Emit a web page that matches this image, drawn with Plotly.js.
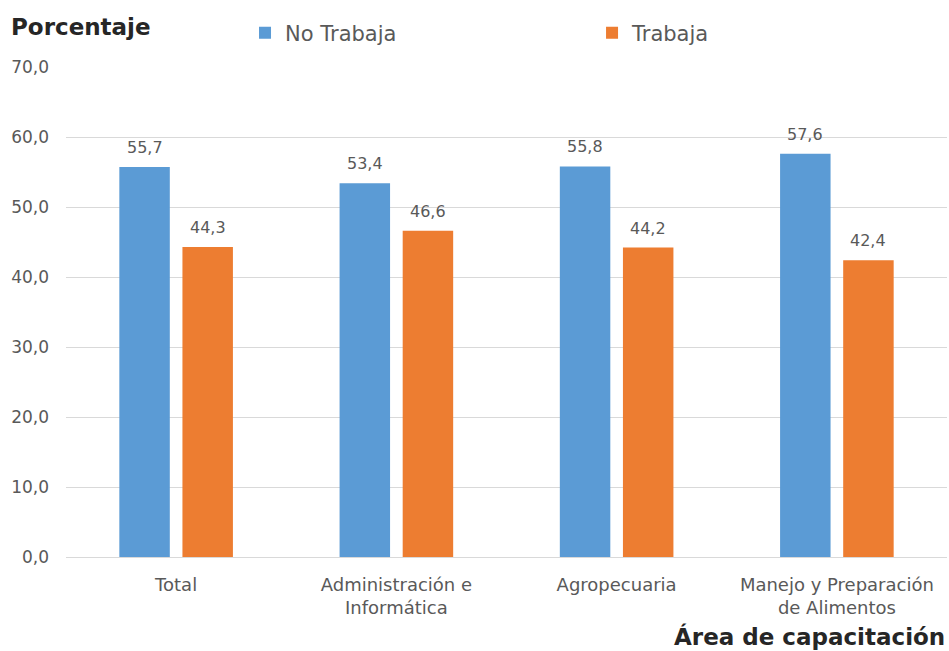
<!DOCTYPE html>
<html>
<head>
<meta charset="utf-8">
<script src="https://cdn.plot.ly/plotly-3.0.1.min.js"></script>
<style>
  html, body { margin: 0; padding: 0; background: #ffffff; }
  #chart { width: 949px; height: 651px; }
</style>
</head>
<body>
<div id="chart"></div>
<script>
// Capacitación por área: porcentaje que trabaja / no trabaja
const categories = [
  'Total',
  'Administración e<br>Informática',
  'Agropecuaria',
  'Manejo y Preparación<br>de Alimentos'
];
const noTrabaja = [55.7, 53.4, 55.8, 57.6];
const trabaja = [44.3, 46.6, 44.2, 42.4];
const yTicks = [0, 10, 20, 30, 40, 50, 60, 70];

const FONT = '"DejaVu Sans", "Open Sans", sans-serif';
const GRAY = '#595959';
const DARK = '#262626';
const BLUE = '#5B9BD5';
const ORANGE = '#ED7D31';

const W = 949, H = 651;
const margin = { l: 66, r: 2, t: 67, b: 94, autoexpand: false };
const bargap = 0.427;
const bargroupgap = 0.2;

// horizontal pixel offset of each bar centre from its category centre
const plotW = W - margin.l - margin.r;
const catPx = plotW / categories.length;
const barOffset = (1 - bargap) * catPx / 4;

const traces = [
  {
    type: 'bar', name: 'No Trabaja', x: categories, y: noTrabaja,
    marker: { color: BLUE }, legend: 'legend', hoverinfo: 'skip'
  },
  {
    type: 'bar', name: 'Trabaja', x: categories, y: trabaja,
    marker: { color: ORANGE }, legend: 'legend2', hoverinfo: 'skip'
  }
];

// value labels above each bar
function valueLabels(values, shift) {
  return values.map((v, i) => ({
    x: categories[i], y: v, xref: 'x', yref: 'y',
    text: v.toFixed(1).replace('.', ','),
    xanchor: 'center', yanchor: 'bottom',
    xshift: shift, yshift: 8,
    showarrow: false,
    font: { family: FONT, size: 16, color: GRAY }
  }));
}

const legendCommon = {
  orientation: 'h', yanchor: 'middle', xanchor: 'left',
  xref: 'paper', yref: 'paper', y: 1.069,
  font: { family: FONT, size: 21, color: GRAY },
  bgcolor: 'rgba(0,0,0,0)', borderwidth: 0,
  itemclick: false, itemdoubleclick: false
};

const layout = {
  width: W, height: H,
  margin: margin,
  paper_bgcolor: '#ffffff', plot_bgcolor: '#ffffff',
  separators: ',.',
  barmode: 'group',
  bargap: bargap,
  bargroupgap: bargroupgap,
  font: { family: FONT, color: GRAY },
  showlegend: true,
  legend: Object.assign({ x: 0.2032 }, legendCommon),
  legend2: Object.assign({ x: 0.5971 }, legendCommon),
  xaxis: {
    type: 'category',
    tickfont: { family: FONT, size: 18, color: GRAY },
    showgrid: false, zeroline: false, showline: false,
    ticks: '', ticklabelstandoff: 15
  },
  yaxis: {
    range: [0, 70],
    tickvals: yTicks,
    tickformat: '.1f',
    tickfont: { family: FONT, size: 17, color: GRAY },
    showgrid: true, gridcolor: '#D9D9D9', gridwidth: 1,
    zeroline: true, zerolinecolor: '#D9D9D9', zerolinewidth: 1,
    showline: false, ticks: '', ticklabelstandoff: 16
  },
  annotations: [
    {
      text: '<b>Porcentaje</b>', xref: 'paper', yref: 'paper',
      x: 0, xshift: -57, y: 1, yshift: 40, xanchor: 'left', yanchor: 'middle',
      showarrow: false, font: { family: FONT, size: 23, color: DARK }
    },
    {
      text: '<b>Área de capacitación</b>', xref: 'paper', yref: 'paper',
      x: 1, xshift: 0, y: 0, yshift: -79, xanchor: 'right', yanchor: 'middle',
      showarrow: false, font: { family: FONT, size: 23, color: DARK }
    }
  ].concat(valueLabels(noTrabaja, -barOffset), valueLabels(trabaja, barOffset))
};

Plotly.newPlot('chart', traces, layout, { displayModeBar: false, staticPlot: true });
</script>
</body>
</html>
